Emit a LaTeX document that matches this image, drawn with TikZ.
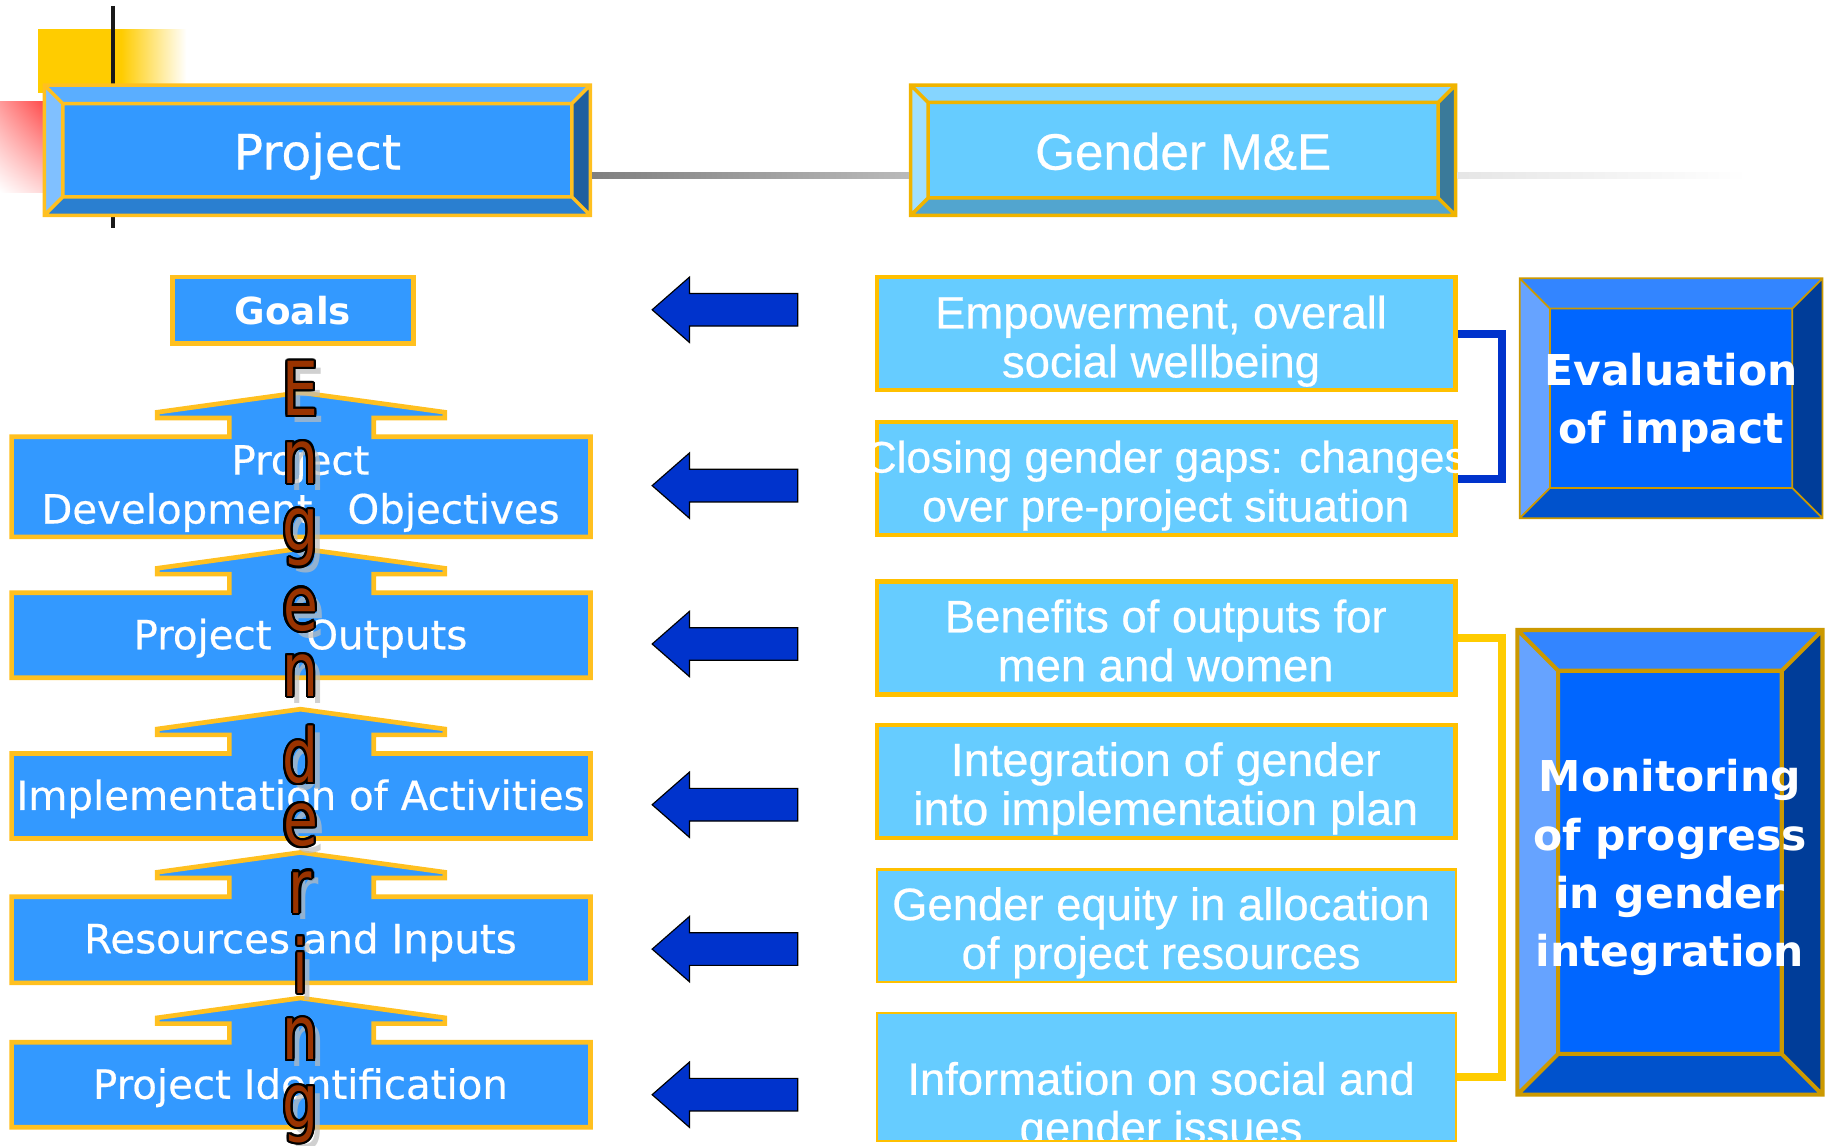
\documentclass[tikz,border=0pt]{standalone}
\usepackage{fontspec}
\usepackage{graphicx}
\setmainfont{DejaVu Sans}
\newfontfamily\libsans[FakeBold=0.5]{Liberation Sans}
\newfontfamily\dvmed[FakeBold=0.5]{DejaVu Sans}
\usetikzlibrary{calc,shadings}

\definecolor{ybord}{HTML}{FFC020}
\definecolor{lblue}{HTML}{3399FF}
\definecolor{sky}{HTML}{66CCFF}
\definecolor{skybord}{HTML}{FFC000}
\definecolor{arrowblue}{HTML}{0033CC}
\definecolor{ybrk}{HTML}{FFCC00}
\definecolor{brownl}{HTML}{993300}
\definecolor{shadowc}{HTML}{BDBDBD}
\definecolor{ydeco}{HTML}{FFCC00}
% bevel colour sets
\definecolor{PAtop}{HTML}{5AAEFF}\definecolor{PAbot}{HTML}{2A7FD0}\definecolor{PAlft}{HTML}{80C0FF}
\definecolor{PArgt}{HTML}{1F5F9F}\definecolor{PAin}{HTML}{3399FF}\definecolor{PAline}{HTML}{FFC020}
\definecolor{GAtop}{HTML}{85D5FF}\definecolor{GAbot}{HTML}{52A5CF}\definecolor{GAlft}{HTML}{A0E0FF}
\definecolor{GArgt}{HTML}{3A7A9A}\definecolor{GAin}{HTML}{66CCFF}\definecolor{GAline}{HTML}{F0B400}
\definecolor{DBtop}{HTML}{3385FF}\definecolor{DBbot}{HTML}{0052CC}\definecolor{DBlft}{HTML}{66A3FF}
\definecolor{DBrgt}{HTML}{003D99}\definecolor{DBin}{HTML}{0066FF}\definecolor{DBline}{HTML}{CC9900}

\tikzset{
  lbox/.style={fill=lblue, draw=ybord, line width=4pt, line join=miter},
  ltext/.style={text=white, font=\dvmed\fontsize{34.6pt}{42pt}\selectfont, align=center, inner sep=0},
  rbox/.style={fill=sky, draw=skybord, line width=4pt, minimum width=497pt, minimum height=97pt, inner sep=0, outer sep=0},
  rtext/.style={text=white, font=\libsans\fontsize{39pt}{42pt}\selectfont, align=center, inner sep=0},
  dtext/.style={text=white, font=\bfseries\fontsize{36.5pt}{50pt}\selectfont, align=center, inner sep=0},
  barrow/.style={fill=arrowblue, draw=black, line width=1pt, line join=miter},
  englet/.style={anchor=base, inner sep=0, font=\fontsize{64pt}{64pt}\selectfont},
}

% bevelled box: name, x1, y1, x2, y2, inset, colour prefix, line width
\newcommand\bevel[8]{%
  \fill[#7top] (#2,#3) -- (#4,#3) -- (#4-#6,#3+#6) -- (#2+#6,#3+#6) -- cycle;
  \fill[#7bot] (#2,#5) -- (#4,#5) -- (#4-#6,#5-#6) -- (#2+#6,#5-#6) -- cycle;
  \fill[#7lft] (#2,#3) -- (#2+#6,#3+#6) -- (#2+#6,#5-#6) -- (#2,#5) -- cycle;
  \fill[#7rgt] (#4,#3) -- (#4-#6,#3+#6) -- (#4-#6,#5-#6) -- (#4,#5) -- cycle;
  \fill[#7in] (#2+#6,#3+#6) rectangle (#4-#6,#5-#6);
  \draw[#7line, line width=#8, line join=miter]
    (#2,#3) rectangle (#4,#5)
    (#2+#6,#3+#6) rectangle (#4-#6,#5-#6)
    (#2,#3) -- (#2+#6,#3+#6) (#4,#3) -- (#4-#6,#3+#6)
    (#2,#5) -- (#2+#6,#5-#6) (#4,#5) -- (#4-#6,#5-#6);
  \node[inner sep=0, outer sep=0, minimum width={(#4-#2)*1pt}, minimum height={(#5-#3)*1pt}]
    (#1) at ({(#2+#4)/2},{(#3+#5)/2}) {};
}

% box with up-arrow on top: name, top, bottom
\newcommand\abox[3]{%
  \draw[lbox] (10,#2) -- (197,#2) -- (197,#2-16) -- (135,#2-16) -- (135,#2-21)
    -- (258,#2-38) -- (382,#2-21) -- (382,#2-16) -- (321,#2-16) -- (321,#2)
    -- (507,#2) -- (507,#3) -- (10,#3) -- cycle;
  \coordinate (#1) at (258.5,{(#2+#3)/2});
}

% blue left block arrow: name, centre y
\newcommand\barr[2]{%
  \draw[barrow] (560,#2) -- (592,#2-28) -- (592,#2-14) -- (685,#2-14)
    -- (685,#2+14) -- (592,#2+14) -- (592,#2+28) -- cycle;
  \coordinate (#1) at (622,#2);
}

% outlined letter with shadow: name, x, baseline y, letter
\newcommand\engl[4]{%
  \node[englet, text=shadowc, opacity=0.7] (#1s) at (#2+6,#3+6) {\scalebox{0.76}[1]{#4}};
  \foreach \a in {0,22.5,...,337.5}{%
    \node[englet, text=black] (#1o\a) at ($(#2,#3)+(\a:1.9)$) {\scalebox{0.76}[1]{#4}};}
  \node[englet, text=brownl] (#1) at (#2,#3) {\scalebox{0.76}[1]{#4}};
}

\begin{document}
\begin{tikzpicture}[x=1pt,y=-1pt]
\useasboundingbox (0,0) rectangle (1568,984);
\fill[white] (0,0) rectangle (1568,984);

% top-left decoration
\fill[ydeco] (33,25) rectangle (104,80);
\shade[left color=ydeco, right color=white] (104,25) rectangle (160,80);
\shade[upper left=red!40!white, upper right=red!70!white, lower left=white, lower right=red!15!white] (0,87) rectangle (37,165);
\draw[line width=3pt, black!90] (97,5) -- (97,196);

% header boxes
\bevel{proj}{38}{73}{507}{185}{16}{PA}{3pt}
\bevel{gme}{782}{73}{1250}{185}{15}{GA}{3pt}
\shade[left color=black!50, right color=black!27] ($(proj.east)+(1.5,19.5)$) rectangle ($(gme.west)+(-1.5,24.5)$);
\shade[left color=black!10, right color=white] ($(gme.east)+(1.5,19.5)$) rectangle ($(gme.east)+(250,24.5)$);
\node[text=white, inner sep=0, font=\dvmed\fontsize{42pt}{42pt}\selectfont] (proj-t) at ($(proj)+(0,5)$) {Project};
\node[text=white, inner sep=0, font=\libsans\fontsize{44pt}{44pt}\selectfont] (gme-t) at ($(gme)+(0,1)$) {Gender M\&E};

% left column
\node[lbox, minimum width=207pt, minimum height=57pt, inner sep=0, text=white,
      font=\bfseries\fontsize{32pt}{32pt}\selectfont] (goals) at (251.5,266.5) {Goals};
\abox{pdo}{375}{461}
\abox{outp}{509}{582}
\abox{impl}{647}{720}
\abox{res}{770}{844}
\abox{ident}{895}{968}
\node[ltext] (pdo-t) at (258,419) {Project\\Development\hspace{30pt}Objectives};
\node[ltext] (outp-t) at (258,548) {Project\hspace{30pt}Outputs};
\node[ltext] (impl-t) at (258,686) {Implementation of Activities};
\node[ltext] (res-t) at (258,809) {Resources and Inputs};
\node[ltext] (ident-t) at (258,934) {Project Identification};

% Engendering
\engl{L1}{258}{357}{E}
\engl{L2}{258}{415}{n}
\engl{L3}{258}{473}{g}
\engl{L4}{258}{541}{e}
\engl{L5}{258}{598}{n}
\engl{L6}{258}{672}{d}
\engl{L7}{258}{726}{e}
\engl{L8}{258}{784}{r}
\engl{L9}{258}{853}{i}
\engl{L10}{258}{910}{n}
\engl{L11}{258}{968}{g}

% blue arrows
\barr{a1}{266}
\barr{a2}{417}
\barr{a3}{553}
\barr{a4}{691}
\barr{a5}{815}
\barr{a6}{940}

% right boxes
\node[rbox] (e1) at (1001.5,286.5) {};
\node[rbox] (e2) at (1001.5,411) {};
\node[rbox] (e3) at (1001.5,548) {};
\node[rbox] (e4) at (1001.5,671) {};
\node[rbox, line width=2pt] (e5) at (1001.5,795) {};
\node[rbox, line width=1.5pt, minimum height=110pt] (e6) at (1001.5,925) {};

% brackets
\draw[arrowblue, line width=7pt, line join=miter] (e1.east) -- ++(40,0) |- (e2.east);
\draw[ybrk, line width=7pt, line join=miter] (e3.east) -- ++(40,0) |- (e6.east);
\draw[skybord, line width=4pt] (e1.north east) -- (e1.south east) (e2.north east) -- (e2.south east) (e3.north east) -- (e3.south east);
\draw[skybord, line width=1.5pt] (e6.north east) -- (e6.south east);

\node[rtext] (e1-t) at (997,293) {Empowerment, overall\\social wellbeing};
\node[rtext, font=\libsans\fontsize{38pt}{42pt}\selectfont] (e2-t) at (1001,417) {Closing gender gaps: changes\\over pre-project situation};
\node[rtext] (e3-t) at (1001,550) {Benefits of outputs for\\men and women};
\node[rtext, font=\libsans\fontsize{40pt}{42pt}\selectfont] (e4-t) at (1001,677) {Integration of gender\\into implementation plan};
\node[rtext] (e5-t) at (997,801) {Gender equity in allocation\\of project resources};
\begin{scope}
  \clip (e6.north west) rectangle (e6.south east);
  \node[rtext] (e6-t) at (997,951) {Information on social and\\gender issues};
\end{scope}
\draw[skybord, line width=1.5pt] (e6.south west) -- (e6.south east);

% right bevel boxes
\bevel{evl}{1305}{239}{1565}{445}{26}{DB}{1.5pt}
\bevel{mon}{1303}{541}{1565}{940}{35}{DB}{3.5pt}
\node[dtext] (evl-t) at (1435,346) {Evaluation\\of impact};
\node[dtext] (mon-t) at (1434,745) {Monitoring\\of progress\\in gender\\integration};
\end{tikzpicture}
\end{document}
